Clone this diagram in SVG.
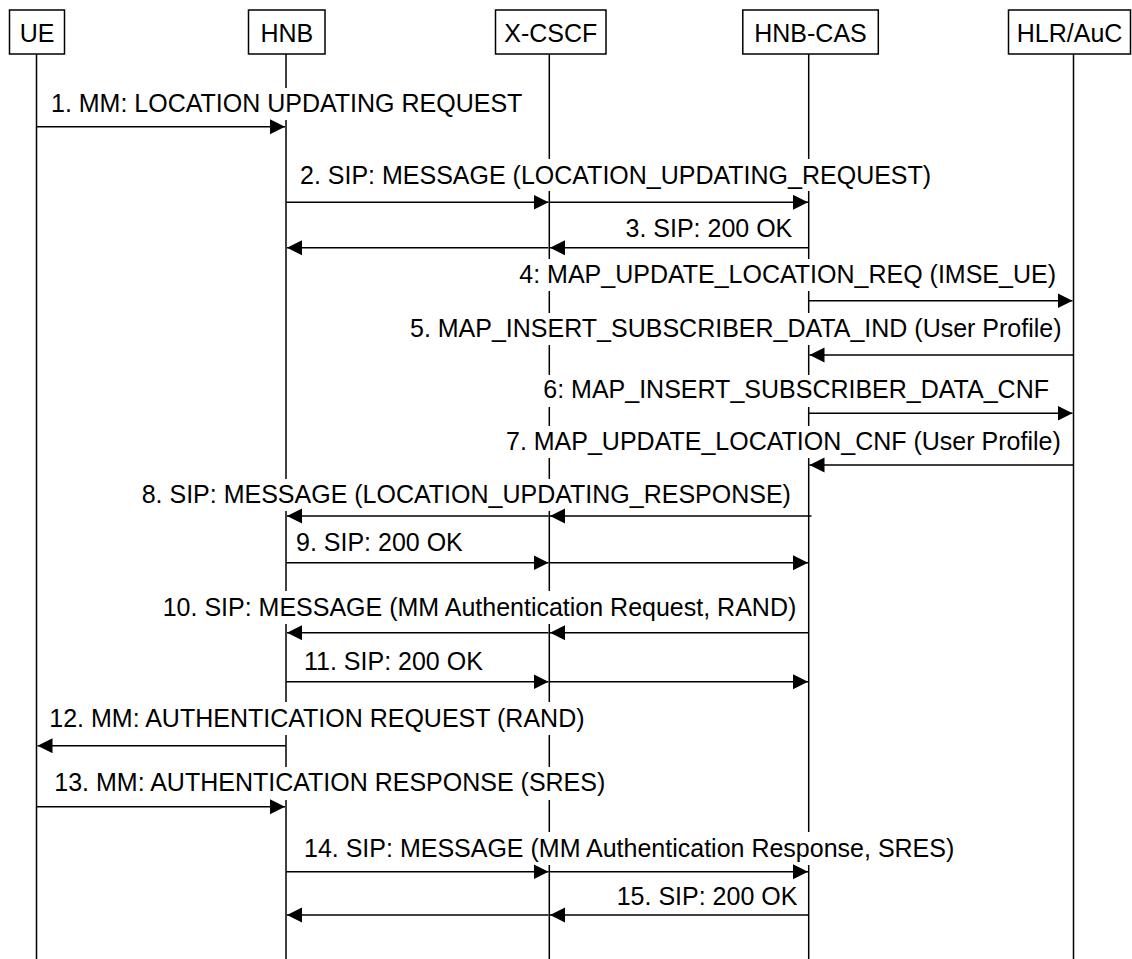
<svg xmlns="http://www.w3.org/2000/svg" width="1132" height="959" viewBox="0 0 1132 959">
<style>
  .box { fill: #fff; stroke: #000; stroke-width: 1.5; }
  .life { stroke: #000; stroke-width: 1.5; fill: none; }
  .hdr { font-family: "Liberation Sans", Arial, sans-serif; font-size: 25px; fill: #000; text-anchor: middle; }
  .lbl { font-family: "Liberation Sans", Arial, sans-serif; font-size: 25px; fill: #000; }
  .bg { fill: #fff; stroke: none; }
  .msg { stroke: #000; stroke-width: 1.5; fill: none; marker-end: url(#ah); }
</style>
<defs>
  <marker id="ah" markerUnits="userSpaceOnUse" markerWidth="16" markerHeight="16" refX="15" refY="7.5" orient="auto">
    <path d="M0,0 L15,7.5 L0,15 Z" fill="#000"/>
  </marker>
</defs>
<rect width="1132" height="959" fill="#fff"/>

<g id="nodes">
  <g id="node-UE">
    <line class="life" x1="36.5" y1="54" x2="36.5" y2="959"/>
    <rect class="box" x="9.5" y="10" width="55" height="44"/>
    <text class="hdr" x="37" y="41.5">UE</text>
  </g>
  <g id="node-HNB">
    <line class="life" x1="286" y1="54" x2="286" y2="959"/>
    <rect class="box" x="248.5" y="10" width="76.5" height="44"/>
    <text class="hdr" x="286.8" y="41.5">HNB</text>
  </g>
  <g id="node-XCSCF">
    <line class="life" x1="549.3" y1="54" x2="549.3" y2="959"/>
    <rect class="box" x="495.5" y="10" width="110.5" height="44"/>
    <text class="hdr" x="550.8" y="41.5">X-CSCF</text>
  </g>
  <g id="node-HNBCAS">
    <line class="life" x1="808.7" y1="54" x2="808.7" y2="959"/>
    <rect class="box" x="742.8" y="10" width="135.5" height="44"/>
    <text class="hdr" x="810.5" y="41.5">HNB-CAS</text>
  </g>
  <g id="node-HLR">
    <line class="life" x1="1073.5" y1="54" x2="1073.5" y2="959"/>
    <rect class="box" x="1008.5" y="10" width="122" height="44"/>
    <text class="hdr" x="1069.6" y="41.5">HLR/AuC</text>
  </g>
</g>

<g id="labels">
  <rect class="bg" x="50" y="88" width="478" height="32"/>
  <text class="lbl" x="51" y="112.3">1. MM: LOCATION UPDATING REQUEST</text>

  <rect class="bg" x="299" y="159" width="638" height="32"/>
  <text class="lbl" x="300" y="183.5">2. SIP: MESSAGE (LOCATION_UPDATING_REQUEST)</text>

  <rect class="bg" x="624" y="213" width="170" height="32"/>
  <text class="lbl" x="625.5" y="237.3">3. SIP: 200 OK</text>

  <rect class="bg" x="518" y="259" width="543" height="32"/>
  <text class="lbl" x="519.3" y="283">4: MAP_UPDATE_LOCATION_REQ (IMSE_UE)</text>

  <rect class="bg" x="409" y="313" width="657" height="32"/>
  <text class="lbl" x="410" y="337">5. MAP_INSERT_SUBSCRIBER_DATA_IND (User Profile)</text>

  <rect class="bg" x="542" y="375" width="513" height="32"/>
  <text class="lbl" x="543.3" y="398">6: MAP_INSERT_SUBSCRIBER_DATA_CNF</text>

  <rect class="bg" x="505" y="426" width="560" height="32"/>
  <text class="lbl" x="506" y="450">7. MAP_UPDATE_LOCATION_CNF (User Profile)</text>

  <rect class="bg" x="140" y="479" width="656" height="32"/>
  <text class="lbl" x="141.7" y="503.3">8. SIP: MESSAGE (LOCATION_UPDATING_RESPONSE)</text>

  <rect class="bg" x="295" y="527" width="170" height="32"/>
  <text class="lbl" x="296" y="550.7">9. SIP: 200 OK</text>

  <rect class="bg" x="161" y="591" width="636" height="33"/>
  <text class="lbl" x="162.7" y="615.7">10. SIP: MESSAGE (MM Authentication Request, RAND)</text>

  <rect class="bg" x="303" y="646" width="184" height="32"/>
  <text class="lbl" x="304" y="670">11. SIP: 200 OK</text>

  <rect class="bg" x="48" y="702" width="538" height="33"/>
  <text class="lbl" x="49.3" y="726.5">12. MM: AUTHENTICATION REQUEST (RAND)</text>

  <rect class="bg" x="53" y="767" width="553" height="33"/>
  <text class="lbl" x="54.3" y="790.7">13. MM: AUTHENTICATION RESPONSE (SRES)</text>

  <rect class="bg" x="303" y="832" width="653" height="33"/>
  <text class="lbl" x="304" y="856.7">14. SIP: MESSAGE (MM Authentication Response, SRES)</text>

  <rect class="bg" x="615" y="881" width="182" height="32"/>
  <text class="lbl" x="616.7" y="904.5">15. SIP: 200 OK</text>
</g>

<g id="connectors">
  <g id="m1"><line class="msg" x1="36.5" y1="126.7" x2="285" y2="126.7"/></g>
  <g id="m2">
    <line class="msg" x1="286" y1="202.3" x2="548.5" y2="202.3"/>
    <line class="msg" x1="549.3" y1="202.3" x2="808" y2="202.3"/>
  </g>
  <g id="m3">
    <line class="msg" x1="808.7" y1="247.8" x2="550" y2="247.8"/>
    <line class="msg" x1="548.5" y1="247.8" x2="287" y2="247.8"/>
  </g>
  <g id="m4"><line class="msg" x1="808.7" y1="300.7" x2="1072.5" y2="300.7"/></g>
  <g id="m5"><line class="msg" x1="1073.5" y1="355" x2="809.5" y2="355"/></g>
  <g id="m6"><line class="msg" x1="808.7" y1="413.3" x2="1072.5" y2="413.3"/></g>
  <g id="m7"><line class="msg" x1="1073.5" y1="465" x2="809.5" y2="465"/></g>
  <g id="m8">
    <line class="msg" x1="811.5" y1="516" x2="550" y2="516"/>
    <line class="msg" x1="548.5" y1="516" x2="287" y2="516"/>
  </g>
  <g id="m9">
    <line class="msg" x1="286" y1="562.7" x2="548.5" y2="562.7"/>
    <line class="msg" x1="549.3" y1="562.7" x2="808" y2="562.7"/>
  </g>
  <g id="m10">
    <line class="msg" x1="808.7" y1="632.7" x2="550" y2="632.7"/>
    <line class="msg" x1="548.5" y1="632.7" x2="287" y2="632.7"/>
  </g>
  <g id="m11">
    <line class="msg" x1="286" y1="681.7" x2="548.5" y2="681.7"/>
    <line class="msg" x1="549.3" y1="681.7" x2="808" y2="681.7"/>
  </g>
  <g id="m12"><line class="msg" x1="286" y1="745.7" x2="37.5" y2="745.7"/></g>
  <g id="m13"><line class="msg" x1="36.5" y1="806.7" x2="285" y2="806.7"/></g>
  <g id="m14">
    <line class="msg" x1="286" y1="871.7" x2="548.5" y2="871.7"/>
    <line class="msg" x1="549.3" y1="871.7" x2="808" y2="871.7"/>
  </g>
  <g id="m15">
    <line class="msg" x1="808.7" y1="915" x2="550" y2="915"/>
    <line class="msg" x1="548.5" y1="915" x2="287" y2="915"/>
  </g>
</g>
</svg>
